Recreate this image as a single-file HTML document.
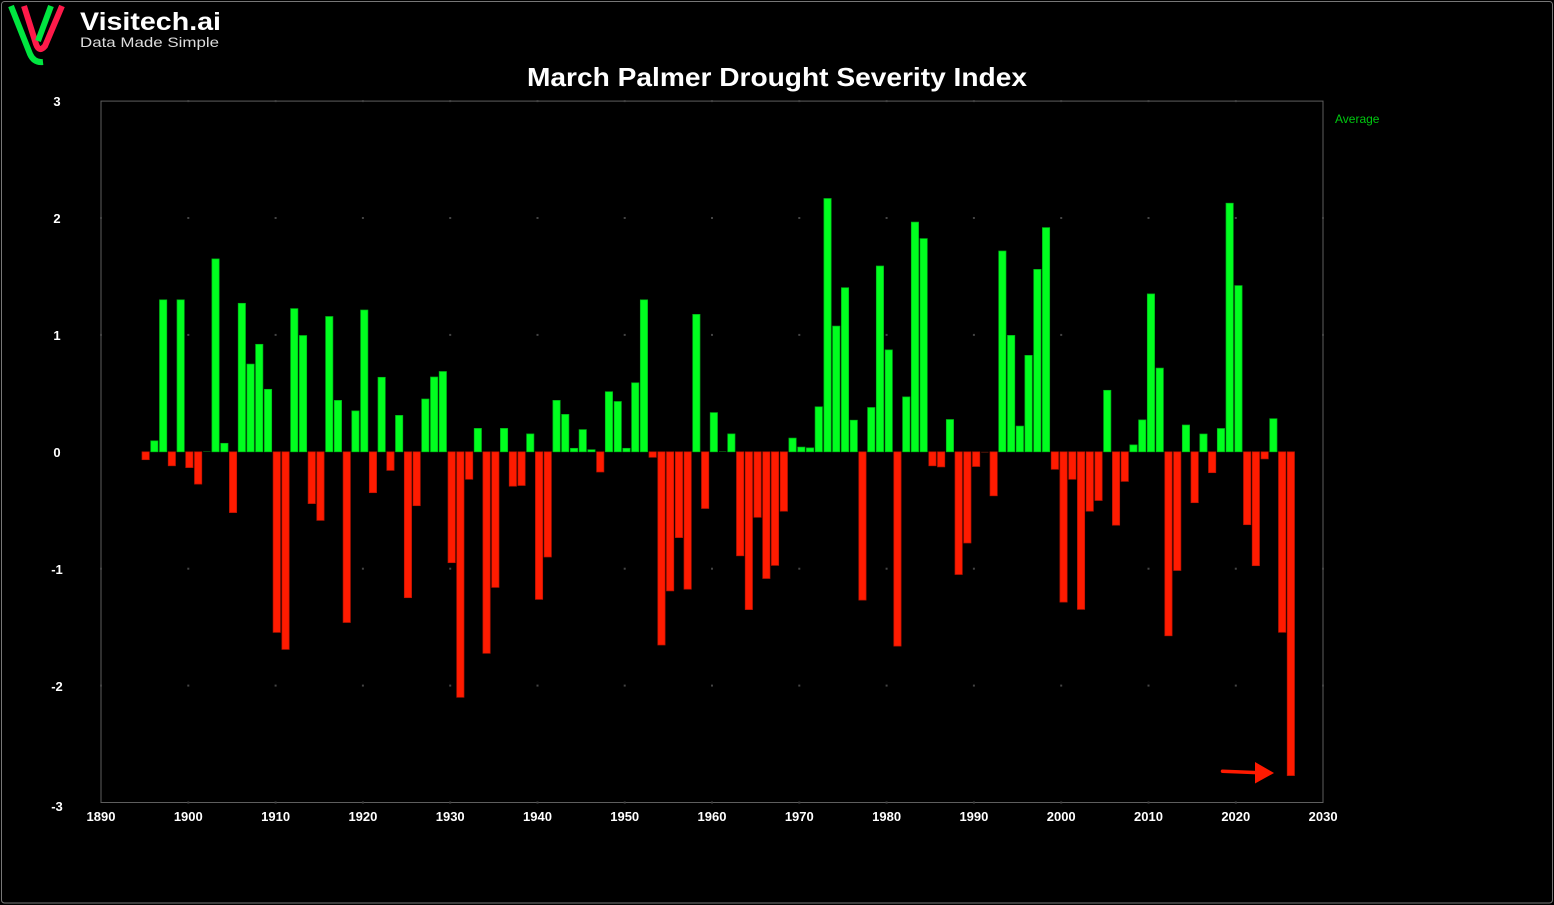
<!DOCTYPE html>
<html>
<head>
<meta charset="utf-8">
<style>
html,body{margin:0;padding:0;background:#000;}
svg{display:block;}
.g{fill:#00ff1f;stroke:#00b318;stroke-width:0.7;}
.r{fill:#ff1b00;stroke:#b81200;stroke-width:0.7;}
.tx{font-family:"Liberation Sans",sans-serif;font-weight:bold;font-size:13px;fill:#fff;}
.gd{fill:#444;}
</style>
</head>
<body>
<svg width="1554" height="905" viewBox="0 0 1554 905" xmlns="http://www.w3.org/2000/svg">
<rect x="0" y="0" width="1554" height="905" fill="#000"/>
<rect x="1.5" y="1.5" width="1551" height="901.5" fill="none" stroke="#777" stroke-width="1" rx="3"/>

<!-- logo -->
<g fill="none" stroke-linecap="butt">
<path d="M11,6 L30,54 Q34,63 43,62" stroke="#00e640" stroke-width="6"/>
<path d="M24,6 L36,44 Q39,53 45,46 L62,6" stroke="#ff1a4a" stroke-width="6"/>
<path d="M38,41 L51,6" stroke="#00e640" stroke-width="6"/>
</g>
<text x="80" y="30" font-family="Liberation Sans, sans-serif" font-weight="bold" font-size="25" fill="#fff" textLength="141" lengthAdjust="spacingAndGlyphs">Visitech.ai</text>
<text x="80" y="47" font-family="Liberation Sans, sans-serif" font-size="14" fill="#ddd" textLength="139" lengthAdjust="spacingAndGlyphs">Data Made Simple</text>

<!-- title -->
<text x="777" y="86" text-anchor="middle" font-family="Liberation Sans, sans-serif" font-weight="bold" font-size="26" fill="#fff" textLength="500" lengthAdjust="spacingAndGlyphs">March Palmer Drought Severity Index</text>

<!-- legend -->
<text x="1335" y="123" font-family="Liberation Sans, sans-serif" font-size="12" fill="#00c810">Average</text>

<!-- plot frame -->
<rect x="101" y="101.1" width="1222" height="701.4" fill="none" stroke="#5e5e5e" stroke-width="1"/>

<!-- grid dots -->
<g class="gd">
<rect x="187.3" y="100.1" width="2" height="2"/><rect x="274.6" y="100.1" width="2" height="2"/><rect x="361.9" y="100.1" width="2" height="2"/><rect x="449.2" y="100.1" width="2" height="2"/><rect x="536.5" y="100.1" width="2" height="2"/><rect x="623.7" y="100.1" width="2" height="2"/><rect x="711" y="100.1" width="2" height="2"/><rect x="798.3" y="100.1" width="2" height="2"/><rect x="885.6" y="100.1" width="2" height="2"/><rect x="972.9" y="100.1" width="2" height="2"/><rect x="1060.2" y="100.1" width="2" height="2"/><rect x="1147.5" y="100.1" width="2" height="2"/><rect x="1234.8" y="100.1" width="2" height="2"/>
<rect x="187.3" y="217" width="2" height="2"/><rect x="274.6" y="217" width="2" height="2"/><rect x="361.9" y="217" width="2" height="2"/><rect x="449.2" y="217" width="2" height="2"/><rect x="536.5" y="217" width="2" height="2"/><rect x="623.7" y="217" width="2" height="2"/><rect x="711" y="217" width="2" height="2"/><rect x="798.3" y="217" width="2" height="2"/><rect x="885.6" y="217" width="2" height="2"/><rect x="972.9" y="217" width="2" height="2"/><rect x="1060.2" y="217" width="2" height="2"/><rect x="1147.5" y="217" width="2" height="2"/><rect x="1234.8" y="217" width="2" height="2"/><rect x="100" y="217" width="2" height="2"/><rect x="1322" y="217" width="2" height="2"/>
<rect x="187.3" y="333.9" width="2" height="2"/><rect x="274.6" y="333.9" width="2" height="2"/><rect x="361.9" y="333.9" width="2" height="2"/><rect x="449.2" y="333.9" width="2" height="2"/><rect x="536.5" y="333.9" width="2" height="2"/><rect x="623.7" y="333.9" width="2" height="2"/><rect x="711" y="333.9" width="2" height="2"/><rect x="798.3" y="333.9" width="2" height="2"/><rect x="885.6" y="333.9" width="2" height="2"/><rect x="972.9" y="333.9" width="2" height="2"/><rect x="1060.2" y="333.9" width="2" height="2"/><rect x="1147.5" y="333.9" width="2" height="2"/><rect x="1234.8" y="333.9" width="2" height="2"/><rect x="100" y="333.9" width="2" height="2"/><rect x="1322" y="333.9" width="2" height="2"/>
<rect x="187.3" y="567.7" width="2" height="2"/><rect x="274.6" y="567.7" width="2" height="2"/><rect x="361.9" y="567.7" width="2" height="2"/><rect x="449.2" y="567.7" width="2" height="2"/><rect x="536.5" y="567.7" width="2" height="2"/><rect x="623.7" y="567.7" width="2" height="2"/><rect x="711" y="567.7" width="2" height="2"/><rect x="798.3" y="567.7" width="2" height="2"/><rect x="885.6" y="567.7" width="2" height="2"/><rect x="972.9" y="567.7" width="2" height="2"/><rect x="1060.2" y="567.7" width="2" height="2"/><rect x="1147.5" y="567.7" width="2" height="2"/><rect x="1234.8" y="567.7" width="2" height="2"/><rect x="100" y="567.7" width="2" height="2"/><rect x="1322" y="567.7" width="2" height="2"/>
<rect x="187.3" y="684.6" width="2" height="2"/><rect x="274.6" y="684.6" width="2" height="2"/><rect x="361.9" y="684.6" width="2" height="2"/><rect x="449.2" y="684.6" width="2" height="2"/><rect x="536.5" y="684.6" width="2" height="2"/><rect x="623.7" y="684.6" width="2" height="2"/><rect x="711" y="684.6" width="2" height="2"/><rect x="798.3" y="684.6" width="2" height="2"/><rect x="885.6" y="684.6" width="2" height="2"/><rect x="972.9" y="684.6" width="2" height="2"/><rect x="1060.2" y="684.6" width="2" height="2"/><rect x="1147.5" y="684.6" width="2" height="2"/><rect x="1234.8" y="684.6" width="2" height="2"/><rect x="100" y="684.6" width="2" height="2"/><rect x="1322" y="684.6" width="2" height="2"/>
<rect x="187.3" y="801.5" width="2" height="2"/><rect x="274.6" y="801.5" width="2" height="2"/><rect x="361.9" y="801.5" width="2" height="2"/><rect x="449.2" y="801.5" width="2" height="2"/><rect x="536.5" y="801.5" width="2" height="2"/><rect x="623.7" y="801.5" width="2" height="2"/><rect x="711" y="801.5" width="2" height="2"/><rect x="798.3" y="801.5" width="2" height="2"/><rect x="885.6" y="801.5" width="2" height="2"/><rect x="972.9" y="801.5" width="2" height="2"/><rect x="1060.2" y="801.5" width="2" height="2"/><rect x="1147.5" y="801.5" width="2" height="2"/><rect x="1234.8" y="801.5" width="2" height="2"/>
</g>

<!-- y labels -->
<g class="tx" text-anchor="middle">
<text x="57" y="106">3</text>
<text x="57" y="223">2</text>
<text x="57" y="340">1</text>
<text x="57" y="457">0</text>
<text x="57" y="574">-1</text>
<text x="57" y="691">-2</text>
<text x="57" y="811">-3</text>
</g>

<!-- x labels -->
<g class="tx" text-anchor="middle">
<text x="101" y="821">1890</text>
<text x="188.3" y="821">1900</text>
<text x="275.6" y="821">1910</text>
<text x="362.9" y="821">1920</text>
<text x="450.2" y="821">1930</text>
<text x="537.5" y="821">1940</text>
<text x="624.7" y="821">1950</text>
<text x="712" y="821">1960</text>
<text x="799.3" y="821">1970</text>
<text x="886.6" y="821">1980</text>
<text x="973.9" y="821">1990</text>
<text x="1061.2" y="821">2000</text>
<text x="1148.5" y="821">2010</text>
<text x="1235.8" y="821">2020</text>
<text x="1323.1" y="821">2030</text>
</g>

<!-- bars -->
<g>
<rect class="r" x="142.0" y="451.8" width="7.3" height="7.9"/>
<rect class="g" x="150.7" y="440.8" width="7.3" height="11.0"/>
<rect class="g" x="159.5" y="299.8" width="7.3" height="152.0"/>
<rect class="r" x="168.2" y="451.8" width="7.3" height="14.0"/>
<rect class="g" x="177.0" y="299.8" width="7.3" height="152.0"/>
<rect class="r" x="185.7" y="451.8" width="7.3" height="15.8"/>
<rect class="r" x="194.5" y="451.8" width="7.3" height="32.3"/>
<rect x="203.2" y="451.0" width="7.3" height="0.8" fill="#0a5a12"/>
<rect class="g" x="211.9" y="258.9" width="7.3" height="192.9"/>
<rect class="g" x="220.7" y="443.3" width="7.3" height="8.5"/>
<rect class="r" x="229.4" y="451.8" width="7.3" height="60.8"/>
<rect class="g" x="238.2" y="303.3" width="7.3" height="148.5"/>
<rect class="g" x="246.9" y="364.1" width="7.3" height="87.7"/>
<rect class="g" x="255.6" y="344.3" width="7.3" height="107.5"/>
<rect class="g" x="264.4" y="389.3" width="7.3" height="62.5"/>
<rect class="r" x="273.1" y="451.8" width="7.3" height="180.6"/>
<rect class="r" x="281.9" y="451.8" width="7.3" height="197.6"/>
<rect class="g" x="290.6" y="308.6" width="7.3" height="143.2"/>
<rect class="g" x="299.4" y="335.5" width="7.3" height="116.3"/>
<rect class="r" x="308.1" y="451.8" width="7.3" height="51.8"/>
<rect class="r" x="316.8" y="451.8" width="7.3" height="68.6"/>
<rect class="g" x="325.6" y="316.5" width="7.3" height="135.3"/>
<rect class="g" x="334.3" y="400.4" width="7.3" height="51.4"/>
<rect class="r" x="343.1" y="451.8" width="7.3" height="170.7"/>
<rect class="g" x="351.8" y="410.9" width="7.3" height="40.9"/>
<rect class="g" x="360.6" y="310.0" width="7.3" height="141.8"/>
<rect class="r" x="369.3" y="451.8" width="7.3" height="40.9"/>
<rect class="g" x="378.0" y="377.3" width="7.3" height="74.5"/>
<rect class="r" x="386.8" y="451.8" width="7.3" height="18.6"/>
<rect class="g" x="395.5" y="415.4" width="7.3" height="36.4"/>
<rect class="r" x="404.3" y="451.8" width="7.3" height="145.9"/>
<rect class="r" x="413.0" y="451.8" width="7.3" height="53.9"/>
<rect class="g" x="421.7" y="399.0" width="7.3" height="52.8"/>
<rect class="g" x="430.5" y="377.0" width="7.3" height="74.8"/>
<rect class="g" x="439.2" y="371.5" width="7.3" height="80.3"/>
<rect class="r" x="448.0" y="451.8" width="7.3" height="110.9"/>
<rect class="r" x="456.7" y="451.8" width="7.3" height="245.5"/>
<rect class="r" x="465.5" y="451.8" width="7.3" height="27.5"/>
<rect class="g" x="474.2" y="428.4" width="7.3" height="23.4"/>
<rect class="r" x="482.9" y="451.8" width="7.3" height="201.5"/>
<rect class="r" x="491.7" y="451.8" width="7.3" height="135.6"/>
<rect class="g" x="500.4" y="428.4" width="7.3" height="23.4"/>
<rect class="r" x="509.2" y="451.8" width="7.3" height="34.4"/>
<rect class="r" x="517.9" y="451.8" width="7.3" height="33.7"/>
<rect class="g" x="526.6" y="433.9" width="7.3" height="17.9"/>
<rect class="r" x="535.4" y="451.8" width="7.3" height="147.6"/>
<rect class="r" x="544.1" y="451.8" width="7.3" height="105.2"/>
<rect class="g" x="552.9" y="400.4" width="7.3" height="51.4"/>
<rect class="g" x="561.6" y="414.4" width="7.3" height="37.4"/>
<rect class="g" x="570.4" y="448.3" width="7.3" height="3.5"/>
<rect class="g" x="579.1" y="429.6" width="7.3" height="22.2"/>
<rect class="g" x="587.8" y="449.7" width="7.3" height="2.1"/>
<rect class="r" x="596.6" y="451.8" width="7.3" height="20.2"/>
<rect class="g" x="605.3" y="391.7" width="7.3" height="60.1"/>
<rect class="g" x="614.1" y="401.5" width="7.3" height="50.3"/>
<rect class="g" x="622.8" y="448.3" width="7.3" height="3.5"/>
<rect class="g" x="631.6" y="382.8" width="7.3" height="69.0"/>
<rect class="g" x="640.3" y="299.8" width="7.3" height="152.0"/>
<rect class="r" x="649.0" y="451.8" width="7.3" height="5.5"/>
<rect class="r" x="657.8" y="451.8" width="7.3" height="193.2"/>
<rect class="r" x="666.5" y="451.8" width="7.3" height="139.1"/>
<rect class="r" x="675.3" y="451.8" width="7.3" height="85.8"/>
<rect class="r" x="684.0" y="451.8" width="7.3" height="137.4"/>
<rect class="g" x="692.7" y="314.4" width="7.3" height="137.4"/>
<rect class="r" x="701.5" y="451.8" width="7.3" height="56.7"/>
<rect class="g" x="710.2" y="412.6" width="7.3" height="39.2"/>
<rect x="719.0" y="451.0" width="7.3" height="0.8" fill="#0a5a12"/>
<rect class="g" x="727.7" y="433.9" width="7.3" height="17.9"/>
<rect class="r" x="736.5" y="451.8" width="7.3" height="104.0"/>
<rect class="r" x="745.2" y="451.8" width="7.3" height="157.8"/>
<rect class="r" x="753.9" y="451.8" width="7.3" height="65.5"/>
<rect class="r" x="762.7" y="451.8" width="7.3" height="126.7"/>
<rect class="r" x="771.4" y="451.8" width="7.3" height="113.6"/>
<rect class="r" x="780.2" y="451.8" width="7.3" height="59.4"/>
<rect class="g" x="788.9" y="438.1" width="7.3" height="13.7"/>
<rect class="g" x="797.7" y="447.1" width="7.3" height="4.7"/>
<rect class="g" x="806.4" y="447.9" width="7.3" height="3.9"/>
<rect class="g" x="815.1" y="406.8" width="7.3" height="45.0"/>
<rect class="g" x="823.9" y="198.5" width="7.3" height="253.3"/>
<rect class="g" x="832.6" y="326.1" width="7.3" height="125.7"/>
<rect class="g" x="841.4" y="287.7" width="7.3" height="164.1"/>
<rect class="g" x="850.1" y="420.2" width="7.3" height="31.6"/>
<rect class="r" x="858.8" y="451.8" width="7.3" height="148.3"/>
<rect class="g" x="867.6" y="407.5" width="7.3" height="44.3"/>
<rect class="g" x="876.3" y="266.0" width="7.3" height="185.8"/>
<rect class="g" x="885.1" y="349.9" width="7.3" height="101.9"/>
<rect class="r" x="893.8" y="451.8" width="7.3" height="194.3"/>
<rect class="g" x="902.6" y="396.9" width="7.3" height="54.9"/>
<rect class="g" x="911.3" y="222.1" width="7.3" height="229.7"/>
<rect class="g" x="920.0" y="238.6" width="7.3" height="213.2"/>
<rect class="r" x="928.8" y="451.8" width="7.3" height="14.0"/>
<rect class="r" x="937.5" y="451.8" width="7.3" height="15.1"/>
<rect class="g" x="946.3" y="419.5" width="7.3" height="32.3"/>
<rect class="r" x="955.0" y="451.8" width="7.3" height="122.7"/>
<rect class="r" x="963.7" y="451.8" width="7.3" height="91.2"/>
<rect class="r" x="972.5" y="451.8" width="7.3" height="14.7"/>
<rect x="981.2" y="451.8" width="7.3" height="0.8" fill="#6a1a0a"/>
<rect class="r" x="990.0" y="451.8" width="7.3" height="44.0"/>
<rect class="g" x="998.7" y="251.0" width="7.3" height="200.8"/>
<rect class="g" x="1007.5" y="335.4" width="7.3" height="116.4"/>
<rect class="g" x="1016.2" y="426.1" width="7.3" height="25.7"/>
<rect class="g" x="1024.9" y="355.4" width="7.3" height="96.4"/>
<rect class="g" x="1033.7" y="269.4" width="7.3" height="182.4"/>
<rect class="g" x="1042.4" y="227.6" width="7.3" height="224.2"/>
<rect class="r" x="1051.2" y="451.8" width="7.3" height="17.5"/>
<rect class="r" x="1059.9" y="451.8" width="7.3" height="150.3"/>
<rect class="r" x="1068.7" y="451.8" width="7.3" height="27.5"/>
<rect class="r" x="1077.4" y="451.8" width="7.3" height="157.6"/>
<rect class="r" x="1086.1" y="451.8" width="7.3" height="59.4"/>
<rect class="r" x="1094.9" y="451.8" width="7.3" height="48.7"/>
<rect class="g" x="1103.6" y="390.3" width="7.3" height="61.5"/>
<rect class="r" x="1112.4" y="451.8" width="7.3" height="73.4"/>
<rect class="r" x="1121.1" y="451.8" width="7.3" height="29.6"/>
<rect class="g" x="1129.8" y="444.9" width="7.3" height="6.9"/>
<rect class="g" x="1138.6" y="419.9" width="7.3" height="31.9"/>
<rect class="g" x="1147.3" y="293.9" width="7.3" height="157.9"/>
<rect class="g" x="1156.1" y="368.1" width="7.3" height="83.7"/>
<rect class="r" x="1164.8" y="451.8" width="7.3" height="184.0"/>
<rect class="r" x="1173.6" y="451.8" width="7.3" height="118.7"/>
<rect class="g" x="1182.3" y="425.0" width="7.3" height="26.8"/>
<rect class="r" x="1191.0" y="451.8" width="7.3" height="50.9"/>
<rect class="g" x="1199.8" y="434.0" width="7.3" height="17.8"/>
<rect class="r" x="1208.5" y="451.8" width="7.3" height="20.9"/>
<rect class="g" x="1217.3" y="428.5" width="7.3" height="23.3"/>
<rect class="g" x="1226.0" y="203.2" width="7.3" height="248.6"/>
<rect class="g" x="1234.8" y="285.6" width="7.3" height="166.2"/>
<rect class="r" x="1243.5" y="451.8" width="7.3" height="72.9"/>
<rect class="r" x="1252.2" y="451.8" width="7.3" height="113.9"/>
<rect class="r" x="1261.0" y="451.8" width="7.3" height="7.1"/>
<rect class="g" x="1269.7" y="418.7" width="7.3" height="33.1"/>
<rect class="r" x="1278.5" y="451.8" width="7.3" height="180.5"/>
<rect class="r" x="1287.2" y="451.8" width="7.3" height="323.8"/>
</g>

<!-- arrow -->
<line x1="1222.5" y1="771.2" x2="1257" y2="772.6" stroke="#ff1a00" stroke-width="3.5" stroke-linecap="round"/>
<polygon points="1255,762 1274,773 1255,783.5" fill="#ff1a00"/>
</svg>
</body>
</html>
